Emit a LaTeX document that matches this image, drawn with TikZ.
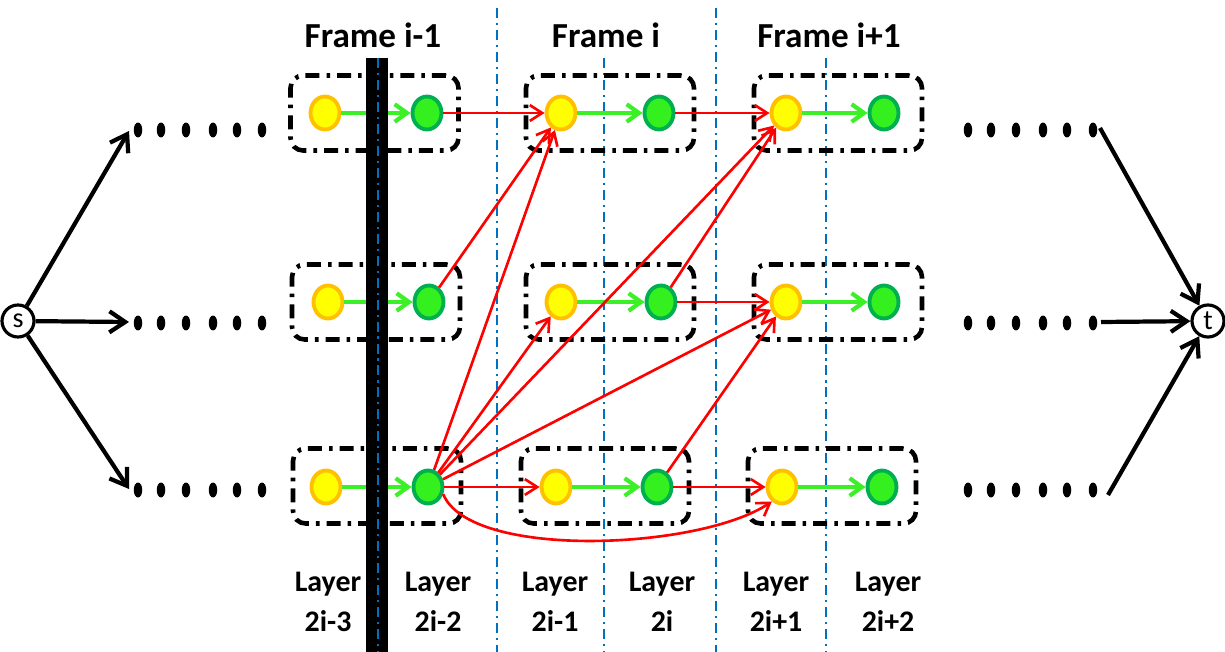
\documentclass[tikz,border=0pt]{standalone}
\usepackage{fontspec}
\setmainfont{Carlito}
\usetikzlibrary{arrows.meta,shapes.geometric}

\definecolor{nodeyellow}{RGB}{255,255,0}
\definecolor{nodeorange}{RGB}{255,192,0}
\definecolor{nodegreen}{RGB}{51,240,30}
\definecolor{nodedkgreen}{RGB}{0,176,80}
\definecolor{linkgreen}{RGB}{60,240,40}
\definecolor{guideblue}{RGB}{0,112,192}
\definecolor{linkred}{RGB}{255,0,0}

\begin{document}
\begin{tikzpicture}[x=0.02cm,y=-0.02cm,
  ynode/.style={ellipse,draw=nodeorange,fill=nodeyellow,line width=2.2pt,
    minimum width=0.58cm,minimum height=0.66cm,inner sep=0pt},
  gnode/.style={ellipse,draw=nodedkgreen,fill=nodegreen,line width=2.2pt,
    minimum width=0.58cm,minimum height=0.66cm,inner sep=0pt},
  group/.style={draw,rounded corners=0.25cm,line width=2.6pt,
    dash pattern=on 8pt off 4pt on 2pt off 4pt,
    minimum width=3.36cm,minimum height=1.5cm,inner sep=0pt},
  guide/.style={draw=guideblue,line width=1.2pt,
    dash pattern=on 5.7pt off 2.8pt on 1.2pt off 2.8pt},
  greenlink/.style={draw=linkgreen,line width=2.4pt,
    -{Straight Barb[length=7pt,width=10pt]}},
  redlink/.style={draw=linkred,line width=1.5pt,
    -{Straight Barb[length=7pt,width=9pt]}},
  blacklink/.style={draw=black,line width=2.4pt,
    -{Straight Barb[length=9pt,width=12pt]}},
  terminal/.style={circle,draw,line width=1.8pt,minimum size=0.64cm,
    inner sep=0pt,font=\fontsize{16}{16}\selectfont},
  framelabel/.style={font=\bfseries\fontsize{20}{22}\selectfont},
  layerlabel/.style={font=\bfseries\fontsize{17}{23}\selectfont,align=center},
  seqdot/.style={ellipse,fill=black,minimum width=0.17cm,minimum height=0.3cm,inner sep=0pt}
]
\useasboundingbox (0,0) rectangle (1225,652);

% layer separators
\draw[guide] (497,8) -- (497,652);
\draw[guide] (604,58) -- (604,652);
\draw[guide] (716,8) -- (716,652);
\draw[guide] (826,58) -- (826,652);

% frame groups
\node[group] (b11) at (374.5,113) {};
\node[group] (b12) at (610,113) {};
\node[group] (b13) at (838,113) {};
\node[group] (b21) at (376,302) {};
\node[group] (b22) at (610,302) {};
\node[group] (b23) at (838,302) {};
\node[group] (b31) at (377,486) {};
\node[group] (b32) at (605,486) {};
\node[group] (b33) at (832,486) {};

% vertices
\node[ynode] (y11) at (325,113) {};
\node[gnode] (g11) at (427,113) {};
\node[ynode] (y12) at (561,113) {};
\node[gnode] (g12) at (659,113) {};
\node[ynode] (y13) at (786,113) {};
\node[gnode] (g13) at (884,113) {};
\node[ynode] (y21) at (328,302) {};
\node[gnode] (g21) at (429,302) {};
\node[ynode] (y22) at (561,302) {};
\node[gnode] (g22) at (661,302) {};
\node[ynode] (y23) at (786,302) {};
\node[gnode] (g23) at (884,302) {};
\node[ynode] (y31) at (326,487) {};
\node[gnode] (g31) at (428,487) {};
\node[ynode] (y32) at (556,487) {};
\node[gnode] (g32) at (657,487) {};
\node[ynode] (y33) at (782,487) {};
\node[gnode] (g33) at (882,487) {};

% intra-frame links
\foreach \r in {1,2,3}{
  \foreach \c in {1,2,3}{
    \draw[greenlink] (y\r\c) -- (g\r\c);
  }
}

% inter-frame links
\draw[redlink] (g11) -- (y12);
\draw[redlink] (g12) -- (y13);
\draw[redlink] (g21) -- (y12);
\draw[redlink] (g31) -- (y12);
\draw[redlink] (g31) -- (y13);
\draw[redlink] (g31) -- (y22);
\draw[redlink] (g31) -- (y23);
\draw[redlink] (g31) -- (y32);
\draw[redlink] (g22) -- (y13);
\draw[redlink] (g22) -- (y23);
\draw[redlink] (g32) -- (y23);
\draw[redlink] (g32) -- (y33);
\draw[redlink] (g31.-25) .. controls (470,560) and (700,550) .. (y33.-125);

% frame boundary
\fill[black] (366,58) rectangle (388,652);
\draw[guide] (378,58) -- (378,652);

% source and sink
\node[terminal] (s) at (18,321) {s};
\node[terminal] (t) at (1208,321) {t};

% elided frames
\foreach \yy in {130,323,490}{
  \foreach \xx in {138,161,186,213,237,262,968,991,1016,1043,1067,1093}{
    \node[seqdot] at (\xx,\yy) {};
  }
}
\coordinate (l1) at (129,131);
\coordinate (l2) at (129,322);
\coordinate (l3) at (129,489);
\coordinate (r1) at (1100,128);
\coordinate (r2) at (1101,322);
\coordinate (r3) at (1108,495);
\draw[blacklink] (s) -- (l1);
\draw[blacklink] (s) -- (l2);
\draw[blacklink] (s) -- (l3);
\draw[blacklink] (r1) -- (t);
\draw[blacklink] (r2) -- (t);
\draw[blacklink] (r3) -- (t);

% labels
\node[framelabel] (f1) at (373,35) {Frame i-1};
\node[framelabel] (f2) at (606,35) {Frame i};
\node[framelabel] (f3) at (829,35) {Frame i+1};
\node[layerlabel] (L1) at (328,602) {Layer\\2i-3};
\node[layerlabel] (L2) at (438,602) {Layer\\2i-2};
\node[layerlabel] (L3) at (555,602) {Layer\\2i-1};
\node[layerlabel] (L4) at (662,602) {Layer\\2i};
\node[layerlabel] (L5) at (776,602) {Layer\\2i+1};
\node[layerlabel] (L6) at (888,602) {Layer\\2i+2};
\end{tikzpicture}
\end{document}
